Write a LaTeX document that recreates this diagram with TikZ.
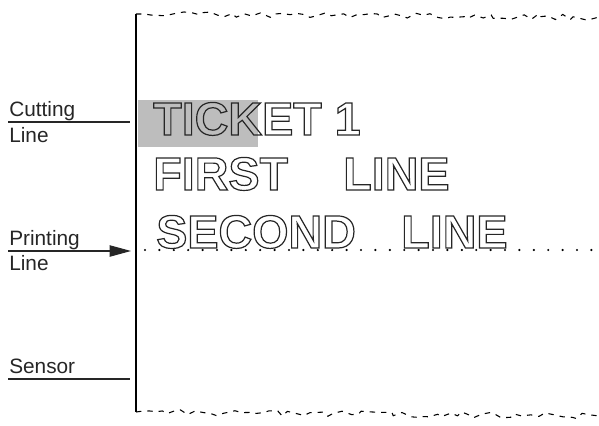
\documentclass[tikz,border=0pt]{standalone}
\usepackage{fontspec}
\setmainfont{Liberation Sans}
\usetikzlibrary{arrows.meta,decorations.pathmorphing}

\tikzset{
  lbl/.style={anchor=base west, inner sep=0pt, font=\fontsize{15.6}{18}\selectfont, text=black!85},
  big/.style={anchor=base west, inner sep=0pt, font=\fontsize{35}{40}\selectfont\bfseries},
  tear/.style={line width=0.8pt, dash pattern=on 4pt off 4.5pt, decorate,
    decoration={random steps, segment length=5pt, amplitude=2.2pt}},
  lead/.style={line width=0.8pt, black!85},
}
% hollow letters: stroke only (text render mode 1)
\newcommand\hollow[1]{\special{pdf:literal direct 1 Tr 0.9 w 0.15 G}#1\special{pdf:literal direct 0 Tr}}

\begin{document}
\begin{tikzpicture}[x=0.75pt,y=-0.75pt]
    \useasboundingbox (0,0) rectangle (599,425);

    % ticket edge
    \coordinate (top) at (136,14);
    \coordinate (bot) at (136,412);
    \coordinate (topr) at (599,17);
    \coordinate (botr) at (599,416);
    \draw[line width=1.6pt] (top) -- (bot);
    \pgfmathsetseed{11}
    \draw[tear] (top) -- (topr);
    \draw[tear] (bot) -- (botr);

    % cut mark
    \fill[gray!52] (138,100) rectangle (258,147);

    % printed lines
    \node[big] (tick) at (153,135) {\hollow{TICKET 1}};
    \node[big] (first) at (153,190) {\hollow{FIRST}};
    \node[big] (linea) at (343,190) {\hollow{LINE}};
    \node[big] (second) at (156,248) {\hollow{SECOND}};
    \node[big] (lineb) at (401,248) {\hollow{LINE}};

    % print line
    \coordinate (dotl) at (145,250);
    \coordinate (dotr) at (599,250);
    \draw[line width=1.8pt, line cap=round, dash pattern=on 0pt off 10.8pt] (dotl) -- (dotr);

    % labels
    \node[lbl] (cut) at (9,116) {Cutting};
    \node[lbl] (cutl) at (9,142) {Line};
    \coordinate (cuta) at (8,122);
    \coordinate (cutb) at (130,122);
    \draw[lead] (cuta) -- (cutb);

    \node[lbl] (prt) at (9,245) {Printing};
    \node[lbl] (prtl) at (9,270) {Line};
    \coordinate (prta) at (8,251);
    \coordinate (prtb) at (131,251);
    \draw[lead, -{Triangle[length=16pt,width=8.5pt]}] (prta) -- (prtb);

    \node[lbl] (sens) at (9,373) {Sensor};
    \coordinate (sensa) at (8,379);
    \coordinate (sensb) at (130,379);
    \draw[lead] (sensa) -- (sensb);
\end{tikzpicture}
\end{document}
